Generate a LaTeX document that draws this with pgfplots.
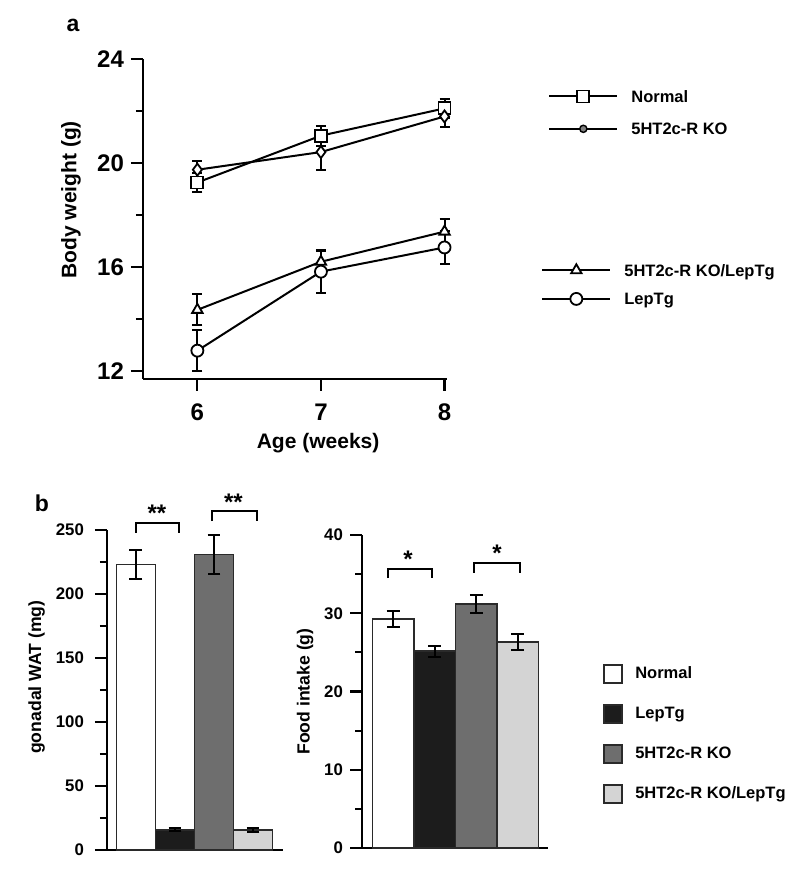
\documentclass[border=0pt]{standalone}
\usepackage{pgfplots}
\pgfplotsset{compat=1.18}
\usepackage{fontspec}
\setmainfont{Liberation Sans}
\definecolor{kogray}{HTML}{6E6E6E}
\definecolor{ltgray}{HTML}{D4D4D4}
\definecolor{dkfill}{HTML}{1C1C1C}
\definecolor{edge}{HTML}{2A2A2A}

\pgfplotsset{
  panel/.style={
    scale only axis,
    anchor=south west,
    axis lines*=left,
    axis line style={line width=1.3pt, black},
    tick align=outside,
    major tick length=6pt,
    minor tick length=3.5pt,
    tick style={line width=1.1pt, black},
    /pgf/number format/assume math mode=true,
    clip=false,
  },
  lineleg/.style={
    legend style={draw=none, fill=none, inner sep=0pt, row sep=8.3pt,
      font=\fontsize{8.25}{9}\selectfont\bfseries,
      nodes={inner sep=1pt, text depth=0pt}},
    legend cell align=left,
    legend image code/.code={
      \draw[##1, mark repeat=2, mark phase=2] plot coordinates {(0pt,0pt) (17pt,0pt) (34pt,0pt)};
      \path[draw=none, fill=none] (40pt,0pt) circle (0pt);
    },
  },
  ser/.style={black, line width=1pt, mark size=3pt,
    mark options={fill=white, solid, line width=0.9pt}},
  erra/.style={error bars/y dir=both, error bars/y explicit,
    error bars/error bar style={line width=1pt, black},
    error bars/error mark options={rotate=90, mark size=2.5pt, line width=1pt, black}},
  errb/.style={error bars/y dir=both, error bars/y explicit,
    error bars/error bar style={line width=1pt, black},
    error bars/error mark options={rotate=90, mark size=3.2pt, line width=1pt, black}},
  barp/.style={ybar, bar width=1, bar shift=0pt, draw=edge, line width=0.8pt},
}

\begin{document}
\begin{tikzpicture}
\path[use as bounding box] (0,0) rectangle (400pt,436.5pt);

% ---------------- panel a ----------------
\node[font=\fontsize{11.5}{13}\selectfont\bfseries] at (36.5pt,424pt) {a};

\begin{axis}[panel, lineleg,
  at={(71.5pt,247pt)}, width=152pt, height=160pt,
  xmin=5.56, xmax=8.02, ymin=11.69, ymax=24,
  xtick={6,7,8}, ytick={12,16,20,24}, minor ytick={14,18,22},
  tick label style={font=\fontsize{12}{14}\selectfont\bfseries},
  xticklabel style={yshift=-3pt},
  xlabel={Age (weeks)}, ylabel={Body weight (g)},
  label style={font=\fontsize{10.5}{12}\selectfont\bfseries},
  xlabel style={at={(axis description cs:0.576,-0.2)}, anchor=center},
  ylabel style={at={(axis description cs:-0.237,0.56)}, anchor=center},
  legend style={at={(axis description cs:1.332,0.909)}, anchor=north west},
]
% Normal
\addplot[ser, mark=square*, forget plot, erra] table[x=x, y=y, y error=e] {
x y e
6 19.25 0.38
7 21.05 0.38
8 22.10 0.37
};
% 5HT2c-R KO
\addplot[ser, mark=diamond*, forget plot, erra] table[x=x, y=y, y error=e] {
x y e
6 19.74 0.35
7 20.42 0.70
8 21.79 0.42
};
% 5HT2c-R KO/LepTg
\addplot[ser, mark=triangle*, forget plot, erra] table[x=x, y=y, y error=e] {
x y e
6 14.35 0.60
7 16.20 0.42
8 17.36 0.49
};
% LepTg
\addplot[ser, mark=*, forget plot, erra] table[x=x, y=y, y error=e] {
x y e
6 12.78 0.78
7 15.82 0.83
8 16.75 0.64
};
\addlegendimage{ser, mark=square*}
\addlegendentry{Normal}
\addlegendimage{ser, mark=*, mark size=1.8pt, mark options={fill=gray, solid, line width=0.7pt}}
\addlegendentry{5HT2c-R KO}
\end{axis}

\begin{axis}[panel, lineleg, hide axis,
  at={(71.5pt,247pt)}, width=152pt, height=160pt,
  xmin=5.56, xmax=8.02, ymin=11.69, ymax=24,
  legend style={at={(axis description cs:1.309,0.366)}, anchor=north west, row sep=6.5pt},
]
\addplot[draw=none, forget plot] coordinates {(6,12)};
\addlegendimage{ser, mark=triangle*}
\addlegendentry{5HT2c-R KO/LepTg}
\addlegendimage{ser, mark=*}
\addlegendentry{LepTg}
\end{axis}

% ---------------- panel b ----------------
\node[font=\fontsize{11.5}{13}\selectfont\bfseries] at (21pt,185pt) {b};

\begin{axis}[panel,
  at={(53.5pt,11.5pt)}, width=88pt, height=160pt,
  xmin=-0.74, xmax=3.77, ymin=0, ymax=250,
  xtick=\empty, ytick={0,50,...,250}, minor ytick={25,75,...,225},
  tick label style={font=\fontsize{8.4}{10}\selectfont\bfseries},
  yticklabel style={xshift=-2pt},
  ylabel={gonadal WAT (mg)},
  label style={font=\fontsize{8.8}{10}\selectfont\bfseries},
  ylabel style={at={(axis description cs:-0.40,0.54)}, anchor=center},
]
\addplot[barp, fill=white, errb] table[x=x, y=y, y error=e] {
x y e
0 223 11
};
\addplot[barp, fill=dkfill, errb] table[x=x, y=y, y error=e] {
x y e
1 15.7 1.2
};
\addplot[barp, fill=kogray, errb] table[x=x, y=y, y error=e] {
x y e
2 231 15
};
\addplot[barp, fill=ltgray, errb] table[x=x, y=y, y error=e] {
x y e
3 15.4 1.5
};
\draw[line width=1pt] (axis cs:0,248) -- (axis cs:0,255.7) -- (axis cs:1.1,255.7) -- (axis cs:1.1,248);
\draw[line width=1pt] (axis cs:1.95,257) -- (axis cs:1.95,265) -- (axis cs:3.1,265) -- (axis cs:3.1,257);
\node[font=\fontsize{12}{13}\selectfont\bfseries, yshift=-2pt] at (axis cs:0.54,266) {**};
\node[font=\fontsize{12}{13}\selectfont\bfseries, yshift=-2pt] at (axis cs:2.5,275) {**};
\end{axis}

\begin{axis}[panel,
  at={(181pt,12.5pt)}, width=93pt, height=156.5pt,
  xmin=-0.75, xmax=3.73, ymin=0, ymax=40,
  xtick=\empty, ytick={0,10,...,40}, minor ytick={5,15,...,35},
  tick label style={font=\fontsize{8.4}{10}\selectfont\bfseries},
  ylabel={Food intake (g)},
  label style={font=\fontsize{8.8}{10}\selectfont\bfseries},
  ylabel style={at={(axis description cs:-0.306,0.50)}, anchor=center},
  legend style={draw=none, fill=none, inner sep=0pt, row sep=10.2pt,
    at={(axis description cs:1.296,0.588)}, anchor=north west,
    font=\fontsize{8.25}{9}\selectfont\bfseries,
    nodes={inner sep=1pt}},
  legend cell align=left,
  legend image code/.code={\draw[#1] (0pt,-4.5pt) rectangle (9pt,4.5pt); \path[draw=none, fill=none] (14.5pt,0pt) circle (0pt);},
]
\addplot[barp, fill=white, forget plot, errb] table[x=x, y=y, y error=e] {
x y e
0 29.28 1.0
};
\addplot[barp, fill=dkfill, forget plot, errb] table[x=x, y=y, y error=e] {
x y e
1 25.15 0.7
};
\addplot[barp, fill=kogray, forget plot, errb] table[x=x, y=y, y error=e] {
x y e
2 31.19 1.1
};
\addplot[barp, fill=ltgray, forget plot, errb] table[x=x, y=y, y error=e] {
x y e
3 26.34 1.05
};
\draw[line width=1pt] (axis cs:-0.12,34.5) -- (axis cs:-0.12,35.66) -- (axis cs:0.94,35.66) -- (axis cs:0.94,34.5);
\draw[line width=1pt] (axis cs:1.95,35.2) -- (axis cs:1.95,36.4) -- (axis cs:3.06,36.4) -- (axis cs:3.06,35.2);
\node[font=\fontsize{12}{13}\selectfont\bfseries, yshift=-2pt] at (axis cs:0.36,37.4) {*};
\node[font=\fontsize{12}{13}\selectfont\bfseries, yshift=-2pt] at (axis cs:2.5,38.2) {*};
\addlegendimage{fill=white, draw=edge, line width=0.8pt}
\addlegendentry{Normal}
\addlegendimage{fill=dkfill, draw=edge, line width=0.8pt}
\addlegendentry{LepTg}
\addlegendimage{fill=kogray, draw=edge, line width=0.8pt}
\addlegendentry{5HT2c-R KO}
\addlegendimage{fill=ltgray, draw=edge, line width=0.8pt}
\addlegendentry{5HT2c-R KO/LepTg}
\end{axis}
\end{tikzpicture}
\end{document}
